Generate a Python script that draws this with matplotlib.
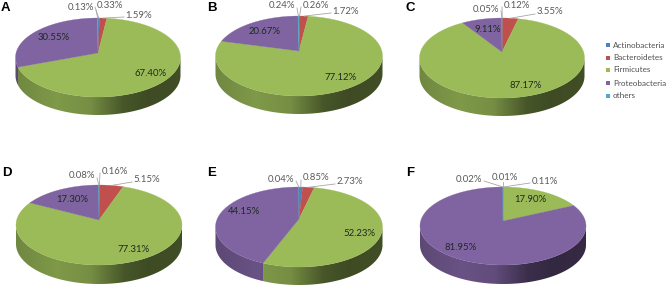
import numpy as np
import matplotlib
matplotlib.use("Agg")
import matplotlib.pyplot as plt
from matplotlib.colors import to_rgb
from matplotlib.patches import Polygon

categories = ["Actinobacteria", "Bacteroidetes", "Firmicutes", "Proteobacteria", "others"]
panel_names = ["A", "B", "C", "D", "E", "F"]
values_a = [0.33, 1.59, 67.40, 30.55, 0.13]
values_b = [0.26, 1.72, 77.12, 20.67, 0.24]
values_c = [0.12, 3.55, 87.17, 9.11, 0.05]
values_d = [0.16, 5.15, 77.31, 17.30, 0.08]
values_e = [0.85, 2.73, 52.23, 44.15, 0.04]
values_f = [0.01, 0.11, 17.90, 81.95, 0.02]
all_values = [values_a, values_b, values_c, values_d, values_e, values_f]

COLORS = ["#4f81bd", "#c0504d", "#9bbb59", "#8064a2", "#4bacc6"]
# geometry in pixels: left, right, top, bottom, apex x, apex y, depth
GEOM = [
    (16, 181, 18, 97, 98, 53, 18),
    (215, 382, 16, 96, 299, 51, 18),
    (419, 584, 18, 98, 502, 52, 18),
    (16, 182, 185, 265, 99, 220, 19),
    (215, 382, 187, 267, 299, 219, 18),
    (420, 586, 187, 265, 503, 221, 19),
]
LETTER_POS = [(1, 8), (207, 8), (405, 8), (2, 173), (207, 173), (406, 173)]
# label centres, same order as the series, in pixels
LABEL_POS = [
    [(110, 5), (139, 15), (151, 73), (54, 38), (81, 8)],
    [(316, 5), (346, 11), (341, 77), (265, 32), (282, 6)],
    [(517, 5), (550, 12), (526, 86), (488, 29), (486, 9)],
    [(115, 171), (147, 180), (134, 250), (72, 199), (82, 176)],
    [(316, 178), (350, 182), (359, 234), (244, 212), (281, 179)],
    [(505, 177), (545, 181), (530, 200), (461, 248), (469, 179)],
]
LEGEND_Y = [45, 58, 70, 83, 96]

plt.rcParams["font.family"] = ["Lato", "DejaVu Sans"]
fig = plt.figure(figsize=(6.66, 2.86), dpi=100)
ax = fig.add_axes([0, 0, 1, 1])
ax.axis("off")

SHADE_X = [0, 0.25, 0.45, 0.65, 0.8, 1]
SHADE_Y = [0.72, 0.82, 0.76, 0.46, 0.40, 0.42]
ramp = np.interp(np.linspace(0, 1, 256), SHADE_X, SHADE_Y)


def rim(theta, g):
    """Projective image of a circle: the centre lands on the apex."""
    l, r, t, b, ax0, ay0, depth = g
    rx, ry = (r - l) / 2, (b - t) / 2
    k = ((t + b) / 2 - ay0) / ry
    A, B = rx * np.sqrt(1 - k * k), ry * (1 - k * k)
    u, v = np.sin(theta), np.cos(theta)
    return ax0 + A * u / (1 + k * v), ay0 - B * v / (1 + k * v)


for vals, g, lp, name, lpos in zip(all_values, GEOM, LABEL_POS, panel_names, LETTER_POS):
    l, r, t, b, ax0, ay0, depth = g
    edges = np.radians(np.concatenate([[0], np.cumsum(vals)]) / sum(vals) * 360)
    k = ((t + b) / 2 - ay0) / ((b - t) / 2)
    ext = np.arccos(-k)
    # wall
    for i, c in enumerate(COLORS):
        a0, a1 = max(edges[i], ext), min(edges[i + 1], 2 * np.pi - ext)
        if a1 <= a0:
            continue
        th = np.linspace(a0, a1, 200)
        x, y = rim(th, g)
        poly = Polygon(np.c_[np.r_[x, x[::-1]], np.r_[y, y[::-1] + depth]],
                       closed=True, transform=ax.transData, fc="none", ec="none")
        ax.add_patch(poly)
        img = ramp[None, :, None] * np.array(to_rgb(c))[None, None, :]
        im = ax.imshow(img, extent=(l - 1, r + 1, b + depth + 1, t), aspect="auto",
                       interpolation="bilinear", zorder=2)
        im.set_clip_path(poly)
    # top
    for i, c in enumerate(COLORS):
        th = np.linspace(edges[i], edges[i + 1], max(3, int((edges[i + 1] - edges[i]) * 80)))
        x, y = rim(th, g)
        ax.fill(np.r_[ax0, x], np.r_[ay0, y], color=c, lw=0.2, zorder=3)
    # labels
    for i, (v, (px, py)) in enumerate(zip(vals, lp)):
        mid = (edges[i] + edges[i + 1]) / 2
        is_small = v < 6
        if is_small:
            mx, my = rim(mid, g)
            if abs(px - mx) < 6:
                lx, ly = mx, py + 5
            elif px > mx:
                lx, ly = px - 15, py + 2
            else:
                lx, ly = px + 15, py + 2
            ax.plot([mx, lx], [my, ly], color="#a6a6a6", lw=0.6, zorder=4)
        ax.text(px, py, f"{v:.2f}%", ha="center", va="center", fontsize=6.9,
                color="#595959" if is_small else "#1f2a20", zorder=5)
    ax.text(lpos[0], lpos[1], name, fontsize=9.5, fontweight="bold", family="Liberation Sans",
            color="black", ha="left", va="center", zorder=5)

# legend
ax.set_xlim(0, 666)
ax.set_ylim(286, 0)
for cat, c, y in zip(categories, COLORS, LEGEND_Y):
    ax.scatter([608], [y], marker="s", s=10, color=c, linewidths=0, zorder=5)
    ax.text(613, y, cat, fontsize=5.9, color="#505050", ha="left", va="center", zorder=5)

fig.savefig("out.png", dpi=100)
